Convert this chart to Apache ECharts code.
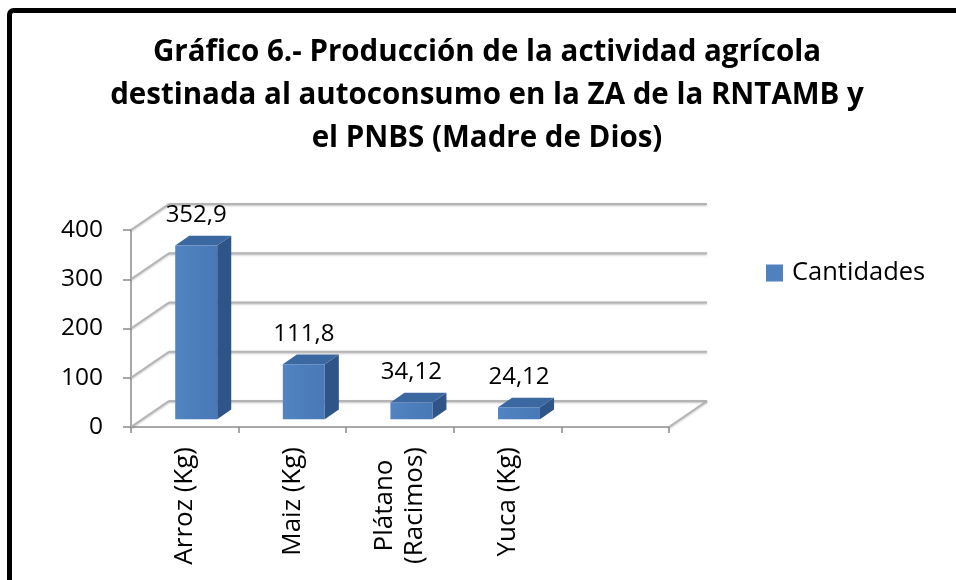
<!DOCTYPE html>
<html lang="es">
<head>
<meta charset="UTF-8">
<title>Gráfico 6</title>
<style>
  html, body { margin: 0; padding: 0; background: #fff; }
  #chart1 { width: 956px; height: 580px; }
</style>
</head>
<body>
<div id="chart1"></div>
<script src="https://cdn.jsdelivr.net/npm/echarts@6/dist/echarts.min.js"></script>
<script type="text/javascript">
// datos del grafico
var categorias = ['Arroz (Kg)', 'Maiz (Kg)', 'Plátano\n(Racimos)', 'Yuca (Kg)', ''];
var cantidades = [352.9, 111.8, 34.12, 24.12];
var marcasY = [0, 100, 200, 300, 400];

// profundidad 3D (px)
var DX = 38, DY = -26;
var F1 = 0.3, F2 = 0.67;   // cara frontal / trasera de la barra

var fuente = '"Open Sans", Lato, sans-serif';

function coma(v) { return String(v).replace('.', ','); }

// paredes y lineas de division
function dibujarParedes(params, api) {
    var v = api.value(1);
    var bw = api.size([1, 0])[0];
    var pIzq = api.coord([0, v]);
    var pDer = api.coord([categorias.length - 1, v]);
    var x0 = pIzq[0] - bw / 2, x1 = pDer[0] + bw / 2, y = pIzq[1];
    var estilo = { stroke: '#b4b4b4', lineWidth: 2, shadowColor: 'rgba(0,0,0,0.25)', shadowBlur: 2, shadowOffsetY: 1 };
    var hijos = [
        { type: 'line', shape: { x1: x0, y1: y, x2: x0 + DX, y2: y + DY }, style: estilo },
        { type: 'line', shape: { x1: x0 + DX, y1: y + DY, x2: x1 + DX, y2: y + DY }, style: estilo }
    ];
    if (v === 0) {
        hijos.push({ type: 'line', shape: { x1: x1, y1: y, x2: x1 + DX, y2: y + DY }, style: estilo });
    }
    return { type: 'group', children: hijos };
}

// barras 3D
function dibujarBarra(params, api) {
    var i = api.value(0), v = api.value(1);
    var base = api.coord([i, 0]);
    var tope = api.coord([i, v]);
    var bw = api.size([1, 0])[0];
    var w = bw * 0.39;
    var fx = F1 * DX, fy = F1 * DY;
    var ddx = (F2 - F1) * DX, ddy = (F2 - F1) * DY;
    var xa = base[0] - w / 2 + fx, xb = xa + w;
    var yb = base[1] + fy, yt = tope[1] + fy;
    return {
        type: 'group',
        children: [
            { type: 'polygon', shape: { points: [[xb, yt], [xb + ddx, yt + ddy], [xb + ddx, yb + ddy], [xb, yb]] },
              style: { fill: '#2f5588' } },
            { type: 'polygon', shape: { points: [[xa, yt], [xb, yt], [xb + ddx, yt + ddy], [xa + ddx, yt + ddy]] },
              style: { fill: '#3c68a2' } },
            { type: 'rect', shape: { x: xa, y: yt, width: w, height: yb - yt },
              style: { fill: new echarts.graphic.LinearGradient(0, 0, 1, 0, [
                  { offset: 0, color: '#5283c2' }, { offset: 1, color: '#4878b6' }]) } },
            { type: 'text', x: xa + w / 2, y: yt - 30,
              style: { text: coma(v), fill: '#000', font: '24px ' + fuente, align: 'center', verticalAlign: 'middle' } }
        ]
    };
}

var datosBarras = cantidades.map(function (v, i) { return [i, v]; });
var datosParedes = marcasY.map(function (v) { return [0, v]; });

var option = {
    animation: false,
    title: {
        text: 'Gráfico 6.- Producción de la actividad agrícola\ndestinada al autoconsumo en la ZA de la RNTAMB y\nel PNBS (Madre de Dios)',
        left: 482, top: 26, textAlign: 'center',
        textStyle: { fontFamily: fuente, fontWeight: 'bold', fontSize: 29.5, lineHeight: 43, color: '#000' }
    },
    legend: {
        data: [{ name: 'Cantidades', itemStyle: { color: '#4f81bd' } }],
        left: 761, top: 255, icon: 'rect', itemWidth: 17, itemHeight: 17, itemGap: 8,
        textStyle: { fontFamily: fuente, fontSize: 25.5, color: '#000', padding: [0, 0, 0, 4] }
    },
    graphic: [{
        type: 'rect', z: 100, silent: true,
        shape: { x: 9.5, y: 10.5, width: 1000, height: 1000, r: 4 },
        style: { fill: 'none', stroke: '#000', lineWidth: 5 }
    }],
    grid: { left: 131, top: 230, right: 287, bottom: 153 },
    xAxis: {
        type: 'category',
        data: categorias,
        axisLine: { lineStyle: { color: '#a8a8a8', width: 2 } },
        axisTick: { show: true, length: 6, lineStyle: { color: '#8c8c8c', width: 1.5 } },
        axisLabel: {
            rotate: 90, margin: 20, interval: 0, color: '#000',
            fontFamily: fuente, fontSize: 26,
            formatter: function (t) {
                return t.split('\n').map(function (s) { return '{c|' + s + '}'; }).join('\n');
            },
            rich: { c: { align: 'center', fontFamily: fuente, fontSize: 26, color: '#000', lineHeight: 30 } }
        }
    },
    yAxis: {
        type: 'value', min: 0, max: 400, interval: 100,
        axisLine: { show: true, lineStyle: { color: '#a8a8a8', width: 2 } },
        axisTick: { show: true, length: 8, lineStyle: { color: '#8c8c8c', width: 1.5 } },
        splitLine: { show: false },
        axisLabel: { margin: 28, color: '#000', fontFamily: fuente, fontSize: 24.5 }
    },
    series: [
        { name: 'paredes', type: 'custom', renderItem: dibujarParedes, data: datosParedes, z: 1, silent: true },
        { name: 'Cantidades', type: 'custom', renderItem: dibujarBarra, data: datosBarras, z: 3,
          itemStyle: { color: '#4f81bd' } }
    ]
};

var myChart = echarts.init(document.getElementById('chart1'));
myChart.setOption(option);
</script>
</body>
</html>
